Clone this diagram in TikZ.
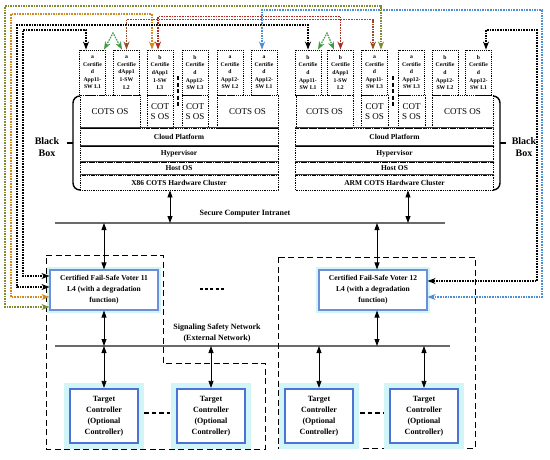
\documentclass[tikz,border=0pt]{standalone}
\usepackage{fontspec}
\setmainfont{Liberation Serif}
\usetikzlibrary{arrows.meta,calc}
\definecolor{olivepath}{HTML}{7E8B2E}
\definecolor{goldpath} {HTML}{D08A1E}
\definecolor{brownpath}{HTML}{9A4A22}
\definecolor{redpath}  {HTML}{B0281E}
\definecolor{bluepath} {HTML}{4A8FD8}
\definecolor{greenpath}{HTML}{3F9A45}
\definecolor{boxblue}  {HTML}{4A72D8}
\definecolor{voterblue}{HTML}{6C8FDA}
\definecolor{halo}     {HTML}{D2F5F8}
\definecolor{busgray}  {HTML}{6A6A6A}

\begin{document}
\begin{tikzpicture}[x=1pt,y=-1pt,
  cell/.style={draw,densely dotted,line width=0.9pt,minimum width=26pt,minimum height=45pt,
    inner sep=0pt,align=center,font=\fontsize{5.7}{7.6}\selectfont\bfseries},
  cots/.style={draw,densely dotted,line width=0.8pt,minimum height=33pt,inner sep=0pt,
    align=center,font=\fontsize{9}{10}\selectfont},
  layer/.style={draw,densely dotted,line width=0.8pt,inner sep=0pt,minimum width=198pt,
    font=\fontsize{7.5}{9}\selectfont\bfseries},
  sepline/.style={draw=black!75,line width=1.4pt},
  brace/.style={line width=1.4pt,rounded corners=7pt},
  blackbox/.style={align=center,font=\fontsize{10}{12}\selectfont\bfseries},
  bus/.style={draw=busgray,line width=1.4pt},
  buslabel/.style={align=center,font=\fontsize{8}{11.5}\selectfont\bfseries},
  link/.style={line width=0.8pt,{Triangle[length=7pt,width=5pt]}-{Triangle[length=7pt,width=5pt]}},
  route/.style={dash pattern=on 1.6pt off 1pt,line width=1.2pt,
    {Stealth[length=8pt,width=6pt]}-{Stealth[length=8pt,width=6pt]}},
  voter/.style={draw=voterblue,line width=1.1pt,fill=white,minimum width=108pt,minimum height=40pt,
    align=center,font=\fontsize{7.5}{11}\selectfont\bfseries,
    preaction={draw=halo,line width=6pt}},
  target/.style={draw=boxblue,line width=2.2pt,fill=white,minimum width=68pt,minimum height=54pt,
    align=center,font=\fontsize{8}{11}\selectfont\bfseries,
    preaction={draw=halo,line width=12pt}},
  zone/.style={dash pattern=on 6pt off 3.5pt,line width=1pt},
  gap/.style={dash pattern=on 4pt off 2.5pt,line width=2.6pt}]

  \useasboundingbox (0,0) rectangle (550,459);

  % application cells on top of both clusters
  \foreach \nm/\x/\ab/\t in {l1/92.5/a/{d\\App11-\\SW L1},l2/126.5/a/{dApp1\\1-SW\\L2},
      l3/160/b/{dApp1\\1-SW\\L3},l4/195/b/{d\\App12-\\SW L3},l5/230/a/{d\\App12-\\SW L2},
      l6/264/a/{d\\App12-\\SW L1},r1/308/b/{d\\App11-\\SW L1},r2/340.5/b/{dApp1\\1-SW\\L2},
      r3/374.5/a/{d\\App11-\\SW L3},r4/411.5/a/{d\\App12-\\SW L3},r5/445/b/{d\\App12-\\SW L2},
      r6/478.5/b/{d\\App12-\\SW L1}}{
    \node[cell] (\nm) at (\x,72.5) {\ab\\Certifie\\\t};}

  % COTS OS row
  \node[cots,minimum width=60pt] (lc1) at (110,111.5) {COTS OS};
  \node[cots,minimum width=26pt] (lc2) at (160,111.5) {COT\\S OS};
  \node[cots,minimum width=26pt] (lc3) at (195,111.5) {COT\\S OS};
  \node[cots,minimum width=61pt] (lc4) at (247.5,111.5) {COTS OS};
  \node[cots,minimum width=57pt] (rc1) at (324.5,111.5) {COTS OS};
  \node[cots,minimum width=27pt] (rc2) at (374.5,111.5) {COT\\S OS};
  \node[cots,minimum width=27pt] (rc3) at (411.5,111.5) {COT\\S OS};
  \node[cots,minimum width=61pt] (rc4) at (462.5,111.5) {COTS OS};
  \draw[gap] (178,76) -- (178,107);
  \draw[gap] (393,76) -- (393,107);

  % platform layers
  \node[layer,minimum height=18pt] (lcloud) at (179,137)   {Cloud Platform};
  \node[layer,minimum height=16pt] (lhyp)   at (179,154)   {Hypervisor};
  \node[layer,minimum height=13pt] (lhost)  at (179,168.5) {Host OS};
  \node[layer,minimum height=15pt] (lhw)    at (179,182.5) {X86 COTS Hardware Cluster};
  \node[layer,minimum height=18pt] (rcloud) at (394.5,137)   {Cloud Platform};
  \node[layer,minimum height=16pt] (rhyp)   at (394.5,154)   {Hypervisor};
  \node[layer,minimum height=13pt] (rhost)  at (394.5,168.5) {Host OS};
  \node[layer,minimum height=15pt] (rhw)    at (394.5,182.5) {ARM COTS Hardware Cluster};
  \foreach \n in {lcloud,lhyp,lhost,lhw,rcloud,rhyp,rhost,rhw}{
    \draw[sepline] (\n.north west) -- (\n.north east);}

  % black box braces
  \draw[brace] (80,96) -- (73,96) -- (73,190) -- (80,190);
  \draw[line width=1.4pt] (67,143) -- (73,143);
  \draw[brace] (493,96) -- (500,96) -- (500,190) -- (493,190);
  \draw[line width=1.4pt] (500,143) -- (506,143);
  \node[blackbox] (lbb) at (47,147)  {Black\\Box};
  \node[blackbox] (rbb) at (524,147) {Black\\Box};

  % networks
  \coordinate (sciW) at (55,223);  \coordinate (sciE) at (445,223);
  \coordinate (ssnW) at (55,346);  \coordinate (ssnE) at (450,346);
  \draw[bus] (sciW) -- (sciE);
  \draw[bus] (ssnW) -- (ssnE);
  \node[buslabel] (scilbl) at (245,214) {Secure Computer Intranet};
  \node[buslabel] (ssnlbl) at (217,333) {Signaling Safety Network\\(External Network)};

  % safety zones
  \draw[zone] (46,255) -- (163,255) -- (163,363) -- (265,363) -- (265,449) -- (46,449) -- cycle;
  \draw[zone] (278,257) rectangle (475,448);

  % voters and targets
  \node[voter] (v11) at (104,290) {Certified Fail-Safe Voter 11\\L4 (with a degradation\\function)};
  \node[voter] (v12) at (373,290) {Certified Fail-Safe Voter 12\\L4 (with a degradation\\function)};
  \draw[gap,dash pattern=on 3pt off 2.2pt] (200,289) -- (225,289);
  \foreach \nm/\x in {tc1/104,tc2/211,tc3/319,tc4/424}{
    \node[target] (\nm) at (\x,416) {Target\\Controller\\(Optional\\Controller)};}
  \draw[gap,dash pattern=on 4.5pt off 3pt] (tc1.east) ++(5,-3) -- ($(tc2.west)+(-6,-3)$);
  \draw[gap,dash pattern=on 4.5pt off 3pt] (tc3.east) ++(6,-3) -- ($(tc4.west)+(-5,-3)$);

  % vertical links
  \draw[link] ([xshift=-9pt]lhw.south) -- ([xshift=-9pt]lhw.south |- sciW);
  \draw[link] ([xshift=13.5pt]rhw.south) -- ([xshift=13.5pt]rhw.south |- sciW);
  \draw[link] (v11.north |- sciW) -- (v11.north);
  \draw[link] ([xshift=4pt]v12.north |- sciW) -- ([xshift=4pt]v12.north);
  \draw[link] (v11.south) -- (v11.south |- ssnW);
  \draw[link] ([xshift=4pt]v12.south) -- ([xshift=4pt]v12.south |- ssnW);
  \foreach \n in {tc1,tc2,tc3,tc4}{\draw[link] (\n.north |- ssnW) -- (\n.north);}

  % replica routes
  \draw[route,olivepath] ([yshift=-17pt]v11.west) -| (5,6) -| ([xshift=6.5pt]r3.north);
  \draw[route,goldpath]  ([yshift=-7pt]v11.west) -| (11,14) -| ([xshift=-8pt]l3.north);
  \draw[route]           ([yshift=3pt]v11.west) -| (17,25) -| (r1.north);
  \draw[route]           ([yshift=14pt]v11.west) -| (23,30) -| ([xshift=-6.5pt]l1.north);
  \draw[route,brownpath] (l2.north) -- ++(0,-30) -| ([xshift=-1.5pt]r3.north);
  \draw[route,redpath]   ([xshift=-2pt]l3.north) -- ++(0,-33) -| (r2.north);
  \draw[route,bluepath]  ([xshift=-2pt]l6.north) |- (542,10) |- ([yshift=-7pt]v12.east);
  \draw[route]           ([xshift=7.5pt]r6.north) |- (537,30) |- ([yshift=9pt]v12.east);
  \draw[route,greenpath] ([xshift=11.5pt]l1.north) -- (113,33) -- ([xshift=-4.5pt]l2.north);
  \draw[route,greenpath] ([xshift=10pt]r1.north) -- (327,33) -- ([xshift=-6.5pt]r2.north);
\end{tikzpicture}
\end{document}
